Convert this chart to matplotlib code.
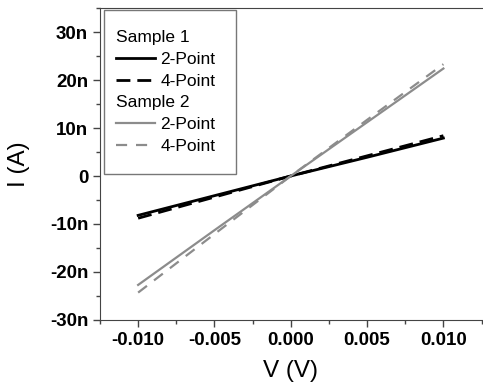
import matplotlib
matplotlib.use("Agg")
import matplotlib.pyplot as plt
from matplotlib.lines import Line2D
from matplotlib.path import Path
from matplotlib.ticker import FuncFormatter, MultipleLocator

plt.rcParams['font.family'] = ['Liberation Sans', 'DejaVu Sans']

# data (V in volts, I in nA)
voltage = [-0.010, -0.005, 0.000, 0.005, 0.010]
s1_2pt = [-8.2, -4.1, 0.0, 3.9, 7.9]
s1_4pt = [-8.8, -4.4, 0.0, 4.2, 8.4]
s2_2pt = [-22.7, -11.3, 0.0, 11.2, 22.4]
s2_4pt = [-24.3, -12.1, 0.0, 11.7, 23.3]

gray = '#8c8c8c'

fig = plt.figure(figsize=(4.83, 3.85), dpi=100)
ax = fig.add_axes([0.207, 0.169, 0.79, 0.81])

ax.plot(voltage, [v * 1e-9 for v in s1_2pt], color='black', lw=2)
ax.plot(voltage, [v * 1e-9 for v in s1_4pt], color='black', lw=2, ls=(0, (5, 2.5)))
ax.plot(voltage, [v * 1e-9 for v in s2_2pt], color=gray, lw=1.6)
ax.plot(voltage, [v * 1e-9 for v in s2_4pt], color=gray, lw=1.6, ls=(0, (5, 4)))

ax.set_xlim(-0.0125, 0.0125)
ax.set_ylim(-30e-9, 35e-9)
ax.xaxis.set_major_locator(MultipleLocator(0.005))
ax.xaxis.set_minor_locator(MultipleLocator(0.0025))
ax.yaxis.set_major_locator(MultipleLocator(10e-9))
ax.yaxis.set_minor_locator(MultipleLocator(5e-9))
ax.xaxis.set_major_formatter(FuncFormatter(lambda x, p: f"{x:.3f}"))
ax.yaxis.set_major_formatter(FuncFormatter(
    lambda y, p: "0" if abs(y) < 1e-12 else f"{round(y * 1e9):d}n"))

ax.tick_params(which='major', direction='out', length=5, width=1, labelsize=13.5,
               color='#444444')
ax.tick_params(which='minor', direction='out', length=3, width=1, color='#444444')
for lab in ax.get_xticklabels() + ax.get_yticklabels():
    lab.set_fontweight('bold')
ax.spines['right'].set_visible(False)
for s in ('left', 'bottom', 'top'):
    ax.spines[s].set_color('#444444')

ax.set_xlabel('V (V)', fontsize=17.5, labelpad=8)
ax.set_ylabel('I (A)', fontsize=17.5, labelpad=14)

blank = Line2D([], [], color='none')
handles = [blank,
           Line2D([], [], color='black', lw=2),
           Line2D([], [], color='black', lw=2, ls=(0, (5, 2.5))),
           blank,
           Line2D([], [], color=gray, lw=1.6),
           Line2D([], [], color=gray, lw=1.6, ls=(0, (5, 4)))]
labels = ['Sample 1', '2-Point', '4-Point', 'Sample 2', '2-Point', '4-Point']
leg = ax.legend(handles, labels, loc='upper left', bbox_to_anchor=(0.0105, 0.9686),
                fontsize=12.5, frameon=True, fancybox=False, edgecolor='#777777',
                framealpha=1, handlelength=2.25, handletextpad=0.3,
                labelspacing=0.38, borderpad=0.7, borderaxespad=0.0)
leg.get_frame().set_linewidth(1.0)


# frame with more room above/below and on the right than on the left
def legend_frame(x0, y0, width, height, mutation_size):
    dv = 0.45 * mutation_size
    dr = 0.46 * mutation_size
    x1 = x0 + width + dr
    return Path([(x0, y0 - dv), (x1, y0 - dv), (x1, y0 + height + dv),
                 (x0, y0 + height + dv), (x0, y0 - dv)],
                [Path.MOVETO, Path.LINETO, Path.LINETO, Path.LINETO, Path.CLOSEPOLY])


leg.get_frame().set_boxstyle(legend_frame)

# title rows: drop the handle so the text starts at the handle position
for col in leg._legend_handle_box.get_children():
    for i, row in enumerate(col.get_children()):
        if i in (0, 3):
            row.get_children()[0].width = 0
            row.sep = 0

fig.savefig('out.png', dpi=100)
